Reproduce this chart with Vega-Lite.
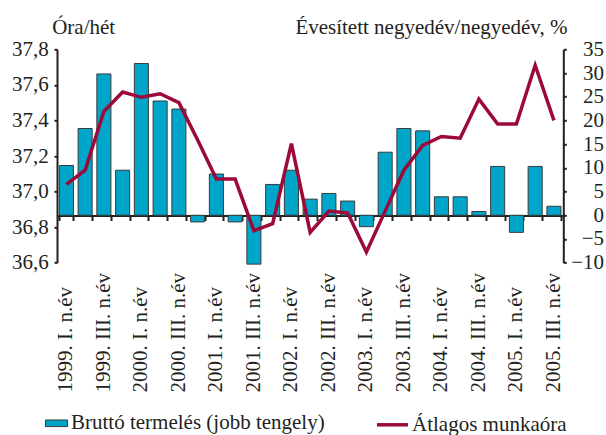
{
  "$schema": "https://vega.github.io/schema/vega-lite/v6.json",
  "width": 506.3,
  "height": 213.4,
  "autosize": {"type": "none"},
  "padding": {"left": 57, "top": 49.3, "right": 42.7, "bottom": 172.3},
  "background": "white",
  "config": {
    "view": {"stroke": null},
    "font": "Liberation Serif",
    "axis": {
      "grid": false,
      "labelFont": "Liberation Serif",
      "titleFont": "Liberation Serif",
      "labelFontSize": 21,
      "titleFontSize": 21,
      "titleFontWeight": "normal",
      "labelColor": "#231f20",
      "titleColor": "#231f20",
      "domainColor": "#231f20",
      "tickColor": "#231f20",
      "domainWidth": 2,
      "tickWidth": 2,
      "labelOverlap": false
    }
  },
  "data": {
    "values": [
      {"q": "1999. I. n.év", "brutto": 10.5, "ora": 37.04},
      {"q": "1999. II. n.év", "brutto": 18.3, "ora": 37.12},
      {"q": "1999. III. n.év", "brutto": 29.8, "ora": 37.45},
      {"q": "1999. IV. n.év", "brutto": 9.5, "ora": 37.56},
      {"q": "2000. I. n.év", "brutto": 32.0, "ora": 37.53},
      {"q": "2000. II. n.év", "brutto": 24.1, "ora": 37.55},
      {"q": "2000. III. n.év", "brutto": 22.4, "ora": 37.50},
      {"q": "2000. IV. n.év", "brutto": -1.4, "ora": 37.29},
      {"q": "2001. I. n.év", "brutto": 8.7, "ora": 37.07},
      {"q": "2001. II. n.év", "brutto": -1.4, "ora": 37.07},
      {"q": "2001. III. n.év", "brutto": -10.3, "ora": 36.78},
      {"q": "2001. IV. n.év", "brutto": 6.5, "ora": 36.82},
      {"q": "2002. I. n.év", "brutto": 9.5, "ora": 37.27},
      {"q": "2002. II. n.év", "brutto": 3.4, "ora": 36.77},
      {"q": "2002. III. n.év", "brutto": 4.6, "ora": 36.89},
      {"q": "2002. IV. n.év", "brutto": 3.0, "ora": 36.88},
      {"q": "2003. I. n.év", "brutto": -2.4, "ora": 36.66},
      {"q": "2003. II. n.év", "brutto": 13.3, "ora": 36.89},
      {"q": "2003. III. n.év", "brutto": 18.3, "ora": 37.12},
      {"q": "2003. IV. n.év", "brutto": 17.8, "ora": 37.26},
      {"q": "2004. I. n.év", "brutto": 3.9, "ora": 37.31},
      {"q": "2004. II. n.év", "brutto": 3.9, "ora": 37.30},
      {"q": "2004. III. n.év", "brutto": 0.8, "ora": 37.52},
      {"q": "2004. IV. n.év", "brutto": 10.3, "ora": 37.38},
      {"q": "2005. I. n.év", "brutto": -3.6, "ora": 37.38},
      {"q": "2005. II. n.év", "brutto": 10.3, "ora": 37.71},
      {"q": "2005. III. n.év", "brutto": 1.9, "ora": 37.40}
    ]
  },
  "layer": [
    {
      "mark": {"type": "bar", "stroke": "#3a3a3a", "strokeWidth": 1},
      "encoding": {
        "x": {
          "field": "q", "type": "nominal", "sort": null,
          "scale": {"paddingInner": 0.25, "paddingOuter": 0.125},
          "axis": {
            "orient": "bottom", "offset": -47.2, "domain": true, "labels": false,
            "ticks": true, "tickBand": "extent", "tickSize": 5, "title": null
          }
        },
        "y": {
          "field": "brutto", "type": "quantitative",
          "scale": {"domain": [-10, 35], "nice": false, "zero": false},
          "axis": {
            "orient": "right",
            "values": [-10, -5, 0, 5, 10, 15, 20, 25, 30, 35],
            "format": "d",
            "tickSize": 3,
            "labelAlign": "right",
            "labelBaseline": "middle",
            "labelPadding": 37.2,
            "labelOverlap": false,
            "title": "Évesített negyedév/negyedév, %",
            "titleAngle": 0,
            "titleAlign": "right",
            "titleBaseline": "alphabetic",
            "titleX": 3.7,
            "titleY": -16.3
          }
        },
        "fill": {
          "datum": "Bruttó termelés (jobb tengely)",
          "scale": {"range": ["#00A6C9"]},
          "legend": {
            "orient": "none", "legendX": -12, "legendY": 362.5, "title": null, "padding": 0,
            "symbolType": "M-1,-0.3H1V0.3H-1Z", "symbolSize": 484,
            "symbolStrokeColor": "#3a3a3a", "symbolStrokeWidth": 1,
            "labelFont": "Liberation Serif", "labelFontSize": 21, "labelColor": "#231f20",
            "labelOffset": 3, "labelLimit": 500
          }
        }
      }
    },
    {
      "mark": {"type": "line", "strokeWidth": 3.5, "strokeJoin": "miter"},
      "encoding": {
        "x": {
          "field": "q", "type": "nominal", "sort": null,
          "axis": {
            "orient": "bottom", "domain": false, "ticks": false, "tickSize": 0,
            "values": ["1999. I. n.év", "1999. III. n.év", "2000. I. n.év", "2000. III. n.év", "2001. I. n.év", "2001. III. n.év", "2002. I. n.év", "2002. III. n.év", "2003. I. n.év", "2003. III. n.év", "2004. I. n.év", "2004. III. n.év", "2005. I. n.év", "2005. III. n.év"],
            "labelAngle": -90, "labelAlign": "left", "labelBaseline": "middle",
            "labelPadding": 129.3, "labelOverlap": false, "labelBound": false, "labelFlush": false,
            "title": null
          }
        },
        "y": {
          "field": "ora", "type": "quantitative",
          "scale": {"domain": [36.6, 37.8], "nice": false, "zero": false},
          "axis": {
            "orient": "left",
            "values": [36.6, 36.8, 37.0, 37.2, 37.4, 37.6, 37.8],
            "labelExpr": "replace(format(datum.value, '.1f'), '.', ',')",
            "tickSize": 3,
            "labelPadding": 5.7,
            "labelBaseline": "middle",
            "title": "Óra/hét",
            "titleAngle": 0,
            "titleAlign": "left",
            "titleBaseline": "alphabetic",
            "titleX": -5.3,
            "titleY": -16.3
          }
        },
        "stroke": {
          "datum": "Átlagos munkaóra",
          "scale": {"range": ["#9B0A3A"]},
          "legend": {
            "orient": "none", "legendX": 318, "legendY": 358, "title": null, "padding": 0,
            "symbolType": "stroke", "symbolSize": 961, "symbolStrokeWidth": 3.5,
            "labelFont": "Liberation Serif", "labelFontSize": 21, "labelColor": "#231f20",
            "labelOffset": 2, "labelLimit": 500
          }
        }
      }
    }
  ],
  "resolve": {
    "scale": {"y": "independent"},
    "axis": {"x": "independent", "y": "independent"}
  }
}
